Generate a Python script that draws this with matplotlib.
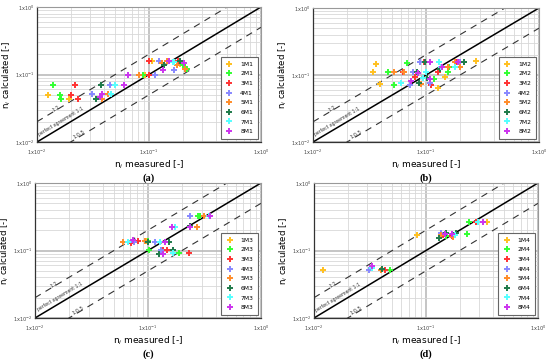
import numpy as np
import matplotlib
matplotlib.use("Agg")
import matplotlib.pyplot as plt
from matplotlib.ticker import LogLocator, NullFormatter

# series colours (1..8)
colors = ['#ffc020', '#33ff33', '#ff3333', '#8888ff',
          '#ff8c2a', '#1f7a4a', '#55ffff', '#cc33ee']

# panel (a) - M1
a_x = [[0.0125, 0.0192, 0.0925, 0.107, 0.190],
       [0.0139, 0.0159, 0.0164, 0.088, 0.200, 0.217],
       [0.0218, 0.0201, 0.0232, 0.100, 0.100, 0.181, 0.210],
       [0.031, 0.0444, 0.1135, 0.122, 0.168, 0.149],
       [0.038, 0.043, 0.050, 0.081, 0.130, 0.144, 0.177, 0.210],
       [0.0338, 0.0375, 0.0656, 0.137, 0.191],
       [0.046, 0.050, 0.0648, 0.165, 0.168],
       [0.0367, 0.0382, 0.0593, 0.0656, 0.133, 0.152, 0.206]]
a_y = [[0.050, 0.044, 0.098, 0.160, 0.145],
       [0.069, 0.050, 0.043, 0.098, 0.140, 0.119],
       [0.069, 0.050, 0.043, 0.098, 0.160, 0.157, 0.119],
       [0.0508, 0.069, 0.097, 0.160, 0.118, 0.157],
       [0.0438, 0.0514, 0.069, 0.098, 0.146, 0.160, 0.140, 0.119],
       [0.0438, 0.069, 0.098, 0.138, 0.157],
       [0.0514, 0.069, 0.098, 0.151, 0.155],
       [0.0464, 0.052, 0.069, 0.097, 0.118, 0.157, 0.148]]

# panel (b) - M2
b_x = [[0.0359, 0.034, 0.0392, 0.129, 0.148, 0.277],
       [0.0679, 0.0458, 0.052, 0.117, 0.155, 0.159, 0.217],
       [0.063, 0.0794, 0.096, 0.128, 0.157, 0.111, 0.185],
       [0.0891, 0.0767, 0.0716, 0.199, 0.109],
       [0.0517, 0.0634, 0.091, 0.157, 0.179, 0.199],
       [0.0832, 0.0867, 0.1028, 0.132, 0.217, 0.0973],
       [0.0597, 0.1007, 0.130, 0.135, 0.179, 0.094],
       [0.0741, 0.1085, 0.109, 0.139, 0.192, 0.085]]
b_y = [[0.147, 0.109, 0.0728, 0.0635, 0.0924, 0.161],
       [0.150, 0.111, 0.0704, 0.0873, 0.111, 0.133, 0.156],
       [0.112, 0.0924, 0.154, 0.111, 0.131, 0.0704, 0.156],
       [0.156, 0.112, 0.072, 0.156, 0.077],
       [0.111, 0.111, 0.0736, 0.131, 0.156, 0.130],
       [0.112, 0.0753, 0.0913, 0.121, 0.156, 0.156],
       [0.077, 0.111, 0.156, 0.133, 0.130, 0.0893],
       [0.0815, 0.156, 0.0873, 0.133, 0.156, 0.108]]

# panel (c) - M3
c_x = [[0.0957, 0.236],
       [0.103, 0.101, 0.190, 0.277, 0.290],
       [0.0705, 0.0824, 0.229, 0.147, 0.135],
       [0.236, 0.0754, 0.116, 0.168, 0.131],
       [0.0598, 0.0944, 0.271, 0.310],
       [0.101, 0.152, 0.124, 0.168, 0.233],
       [0.0663, 0.128, 0.174, 0.168, 0.344],
       [0.0744, 0.142, 0.163, 0.137, 0.351, 0.233]]
c_y = [[0.137, 0.228],
       [0.1005, 0.137, 0.0918, 0.321, 0.321],
       [0.131, 0.137, 0.0918, 0.103, 0.103],
       [0.321, 0.132, 0.135, 0.103, 0.1005],
       [0.132, 0.137, 0.225, 0.321],
       [0.132, 0.135, 0.0897, 0.102, 0.228],
       [0.135, 0.135, 0.225, 0.0918, 0.321],
       [0.141, 0.135, 0.220, 0.0877, 0.321, 0.225]]

# panel (d) - M4
d_x = [[0.0121, 0.0834, 0.353],
       [0.0476, 0.241, 0.230, 0.152],
       [0.043, 0.142, 0.169, 0.282],
       [0.0311, 0.169, 0.137],
       [0.0396, 0.135, 0.175, 0.292],
       [0.0407, 0.130, 0.152, 0.187],
       [0.0327, 0.181, 0.292],
       [0.0327, 0.147, 0.171, 0.323]]
d_y = [[0.0508, 0.168, 0.264],
       [0.0508, 0.264, 0.178, 0.166],
       [0.0508, 0.172, 0.162, 0.264],
       [0.0508, 0.178, 0.182],
       [0.0514, 0.172, 0.158, 0.261],
       [0.0526, 0.155, 0.182, 0.182],
       [0.0557, 0.172, 0.261],
       [0.0583, 0.178, 0.178, 0.261]]

tick_vals = [0.01, 0.1, 1]
tick_labels = ['1x10$^{-2}$', '1x10$^{-1}$', '1x10$^{0}$']

panels = [
    ('(a)', 'M1', a_x, a_y, (37, 7, 261, 142)),
    ('(b)', 'M2', b_x, b_y, (313, 8, 539, 142)),
    ('(c)', 'M3', c_x, c_y, (35, 183, 261, 318)),
    ('(d)', 'M4', d_x, d_y, (314, 183, 538, 318)),
]

W, H = 550, 359
fig = plt.figure(figsize=(W / 100, H / 100), dpi=100)

for tag, suffix, xs, ys, (l, t, r, b) in panels:
    ax = fig.add_axes([l / W, 1 - b / H, (r - l) / W, (b - t) / H])
    ax.set_xscale('log')
    ax.set_yscale('log')
    ax.set_xlim(0.01, 1)
    ax.set_ylim(0.01, 1)

    ax.set_xticks(tick_vals)
    ax.set_yticks(tick_vals)
    ax.set_xticklabels(tick_labels)
    ax.set_yticklabels(tick_labels)
    for axis in (ax.xaxis, ax.yaxis):
        axis.set_minor_locator(LogLocator(base=10, subs=np.arange(2, 10)))
        axis.set_minor_formatter(NullFormatter())
    ax.tick_params(which='both', length=0)
    ax.tick_params(axis='x', labelsize=3.6, labelcolor='#444444', pad=4)
    ax.tick_params(axis='y', labelsize=3.6, labelcolor='#444444', pad=2)

    ax.grid(True, which='minor', color='#d8d8d8', lw=0.6)
    ax.grid(True, which='major', color='#bbbbbb', lw=1.2)
    ax.set_axisbelow(True)

    ref = np.array([0.01, 1])
    ax.plot(ref, ref, color='black', lw=1.1, zorder=2)
    ax.plot(ref, 2 * ref, color='#333333', lw=0.8, ls=(0, (6, 5)), zorder=2)
    ax.plot(ref, 0.5 * ref, color='#333333', lw=0.8, ls=(0, (6, 5)), zorder=2)

    ang = np.degrees(np.arctan2((b - t) / 2, (r - l) / 2))
    ax.text(0.0165, 0.0205, 'perfect agreement 1:1', fontsize=3.3,
            rotation=ang, ha='center', va='center', color='#333333')
    ax.text(0.0148, 0.0315, '1:2', fontsize=3.6, rotation=ang,
            ha='center', va='center', color='#333333')
    ax.text(0.024, 0.0128, '1:0.5', fontsize=3.6, rotation=ang,
            ha='center', va='center', color='#333333')

    for i in range(8):
        ax.plot(xs[i], ys[i], ls='none', marker='+', ms=5, mew=1.4,
                color=colors[i], label=f'{i + 1}{suffix}', zorder=3)

    leg = ax.legend(loc='lower right', fontsize=4.3, frameon=True,
                    fancybox=False, edgecolor='#666666', labelspacing=0.75,
                    handlelength=1.2, handletextpad=1.2, borderpad=0.8,
                    borderaxespad=0.5, markerscale=0.8, framealpha=1)
    leg.get_frame().set_linewidth(0.8)

    for s in ['top', 'right']:
        ax.spines[s].set_color('#999999')
        ax.spines[s].set_linewidth(0.8)
    for s in ['left', 'bottom']:
        ax.spines[s].set_color('#333333')
        ax.spines[s].set_linewidth(0.9)

    ax.set_xlabel('n$_i$ measured [-]', fontsize=6.5, labelpad=1)
    ax.set_ylabel('n$_i$ calculated [-]', fontsize=6.2, labelpad=1)
    ax.text(0.5, -0.27, tag, transform=ax.transAxes, ha='center',
            va='center', fontsize=7.5, fontweight='bold',
            family='Liberation Serif')

fig.savefig('out.png', dpi=100)
